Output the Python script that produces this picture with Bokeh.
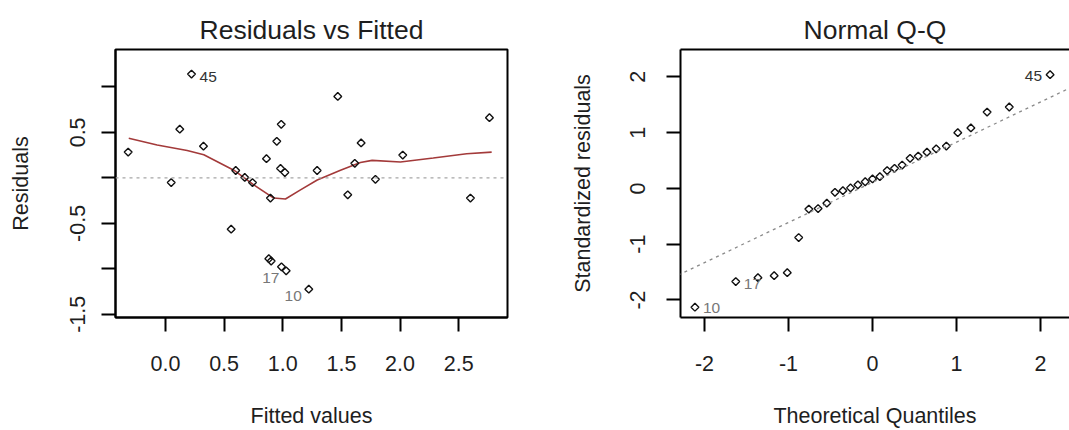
import math
from bokeh.plotting import figure
from bokeh.models import (Range1d, FixedTicker, PrintfTickFormatter, Span, Slope,
                          LinearAxis, ColumnDataSource)
from bokeh.layouts import row
from bokeh.core.properties import value
from bokeh.embed import file_html
from bokeh.resources import INLINE

# ---------------- data: Residuals vs Fitted ----------------
fitted = [-0.318, 0.049, 0.122, 0.222, 0.324, 0.599, 0.676, 0.742, 0.861, 0.895,
          0.949, 0.987, 0.981, 1.018, 1.293, 1.469, 1.554, 1.614, 1.668, 1.790,
          2.023, 2.600, 2.762, 0.560, 0.881, 0.901, 0.989, 1.029, 1.222]
residuals = [0.283, -0.052, 0.535, 1.141, 0.348, 0.081, 0.005, -0.052, 0.211, -0.222,
             0.402, 0.589, 0.103, 0.059, 0.081, 0.895, -0.186, 0.160, 0.384, -0.016,
             0.251, -0.222, 0.662, -0.564, -0.889, -0.914, -0.978, -1.022, -1.224]
lowess_x = [-0.313, -0.071, 0.185, 0.327, 0.583, 0.753, 0.923, 1.023, 1.151, 1.294,
            1.492, 1.662, 1.762, 2.003, 2.283, 2.568, 2.781]
lowess_y = [0.435, 0.362, 0.301, 0.254, 0.084, -0.078, -0.222, -0.232, -0.132, -0.024,
            0.084, 0.168, 0.192, 0.175, 0.218, 0.265, 0.283]
rvf_ids = ["45", "17", "10"]
rvf_id_index = [3, 24, 28]

# ---------------- data: Normal Q-Q ----------------
theoretical_q = [-2.114, -1.628, -1.364, -1.171, -1.015, -0.879, -0.758, -0.648, -0.544,
                 -0.447, -0.353, -0.262, -0.174, -0.087, 0.000, 0.087, 0.174, 0.262,
                 0.353, 0.447, 0.544, 0.648, 0.758, 0.879, 1.015, 1.171, 1.364, 1.628, 2.114]
std_resid = [-2.13, -1.67, -1.60, -1.565, -1.51, -0.88, -0.37, -0.36, -0.265, -0.07,
             -0.04, 0.01, 0.065, 0.12, 0.17, 0.21, 0.32, 0.36, 0.42, 0.54,
             0.58, 0.65, 0.71, 0.76, 1.00, 1.085, 1.37, 1.46, 2.04]
qq_ids = ["10", "17", "45"]
qq_id_index = [0, 1, 28]
qqline_slope = 0.72
qqline_intercept = 0.11

# ticks
rvf_xticks = [0.0, 0.5, 1.0, 1.5, 2.0, 2.5]
rvf_yticks = [-1.5, -0.5, 0.5]
rvf_yminor = [-1.0, 0.0, 1.0]
qq_xticks = [-2, -1, 0, 1, 2]
qq_yticks = [-2, -1, 0, 1, 2]

FONT = "Liberation Sans"
TXT = "#1e1e1e"


def style_axis(ax, orient=None):
    ax.axis_line_color = "black"
    ax.axis_line_width = 2
    ax.major_tick_line_color = "black"
    ax.major_tick_line_width = 2
    ax.major_tick_out = 14
    ax.major_tick_in = 0
    ax.minor_tick_line_color = "black"
    ax.minor_tick_line_width = 2
    ax.minor_tick_out = 14
    ax.minor_tick_in = 0
    ax.major_label_text_font = FONT
    ax.major_label_text_font_size = "21.5px"
    ax.major_label_text_color = TXT
    ax.axis_label_text_font = FONT
    ax.axis_label_text_font_size = "21.5px"
    ax.axis_label_text_font_style = "normal"
    ax.axis_label_text_color = TXT
    if orient is not None:
        ax.major_label_orientation = orient


def style_fig(p, title):
    p.grid.visible = False
    p.background_fill_color = "white"
    p.border_fill_color = "white"
    p.title.text = title
    p.title.align = "center"
    p.title.text_font = FONT
    p.title.text_font_size = "26.5px"
    p.title.text_font_style = "normal"
    p.title.text_color = TXT
    p.title.standoff = 10


# ---------------- left: Residuals vs Fitted ----------------
p1 = figure(width=530, height=430, output_backend="svg", toolbar_location=None,
            x_range=Range1d(-0.426, 2.916), y_range=Range1d(-1.535, 1.411),
            min_border_left=115, min_border_right=23, min_border_top=49,
            min_border_bottom=109)
style_fig(p1, "Residuals vs Fitted")
p1.outline_line_color = "black"
p1.outline_line_width = 2

p1.add_layout(Span(location=0, dimension="width", line_color="#a6a6a6",
                   line_dash="3 4", line_width=1.3))
p1.line(lowess_x, lowess_y, line_color="#a33a3a", line_width=1.6)
p1.scatter(fitted, residuals, marker="square", angle=math.pi / 4, size=5.5,
           fill_color=None, line_color="#111111", line_width=1.4)

lab1 = ColumnDataSource(dict(
    x=[fitted[i] for i in rvf_id_index],
    y=[residuals[i] for i in rvf_id_index],
    t=rvf_ids,
    dx=[8, 2, -7],
    dy=[3, 19, 7],
    al=["left", "center", "right"],
    c=["#333333", "#777777", "#777777"],
))
p1.text(x="x", y="y", text="t", x_offset="dx", y_offset="dy", text_align="al",
        text_baseline="middle", text_color="c", text_font=value(FONT),
        text_font_size="15.5px", source=lab1)

xa1 = p1.below[0]
ya1 = p1.left[0]
xa1.ticker = FixedTicker(ticks=rvf_xticks)
xa1.formatter = PrintfTickFormatter(format="%.1f")
xa1.axis_label = "Fitted values"
xa1.major_label_standoff = 24
xa1.axis_label_standoff = 30
ya1.ticker = FixedTicker(ticks=rvf_yticks, minor_ticks=rvf_yminor)
ya1.formatter = PrintfTickFormatter(format="%.1f")
ya1.axis_label = "Residuals"
ya1.major_label_standoff = 16
ya1.axis_label_standoff = 35
style_axis(xa1)
style_axis(ya1, "vertical")

# ---------------- right: Normal Q-Q ----------------
p2 = figure(width=539, height=430, output_backend="svg", toolbar_location=None,
            x_range=Range1d(-2.286, 2.345), y_range=Range1d(-2.314, 2.491),
            min_border_left=150, min_border_right=0, min_border_top=49,
            min_border_bottom=109)
style_fig(p2, "Normal Q-Q")
p2.outline_line_color = None

xa2 = p2.below[0]
ya2 = p2.left[0]

top = LinearAxis(ticker=FixedTicker(ticks=[]), axis_line_color="black",
                 axis_line_width=2, major_tick_line_color=None,
                 minor_tick_line_color=None, major_label_text_font_size="0px",
                 major_tick_out=0, minor_tick_out=0, major_tick_in=0,
                 minor_tick_in=0, major_label_standoff=0)
p2.add_layout(top, "above")

p2.add_layout(Slope(gradient=qqline_slope, y_intercept=qqline_intercept,
                    line_color="#8a8a8a", line_dash="3 4", line_width=1.3))
p2.scatter(theoretical_q, std_resid, marker="square", angle=math.pi / 4, size=5.5,
           fill_color=None, line_color="#111111", line_width=1.4)

lab2 = ColumnDataSource(dict(
    x=[theoretical_q[i] for i in qq_id_index],
    y=[std_resid[i] for i in qq_id_index],
    t=qq_ids,
    dx=[8, 8, -8],
    dy=[1, 2, 1],
    al=["left", "left", "right"],
    c=["#777777", "#777777", "#333333"],
))
p2.text(x="x", y="y", text="t", x_offset="dx", y_offset="dy", text_align="al",
        text_baseline="middle", text_color="c", text_font=value(FONT),
        text_font_size="15.5px", source=lab2)

xa2.ticker = FixedTicker(ticks=qq_xticks)
xa2.formatter = PrintfTickFormatter(format="%d")
xa2.axis_label = "Theoretical Quantiles"
xa2.major_label_standoff = 24
xa2.axis_label_standoff = 30
ya2.ticker = FixedTicker(ticks=qq_yticks)
ya2.formatter = PrintfTickFormatter(format="%d")
ya2.axis_label = "Standardized residuals"
ya2.major_label_standoff = 21
ya2.axis_label_standoff = 33
style_axis(xa2)
style_axis(ya2, "vertical")

layout = row(p1, p2)
open("out.html", "w").write(file_html(layout, INLINE))
